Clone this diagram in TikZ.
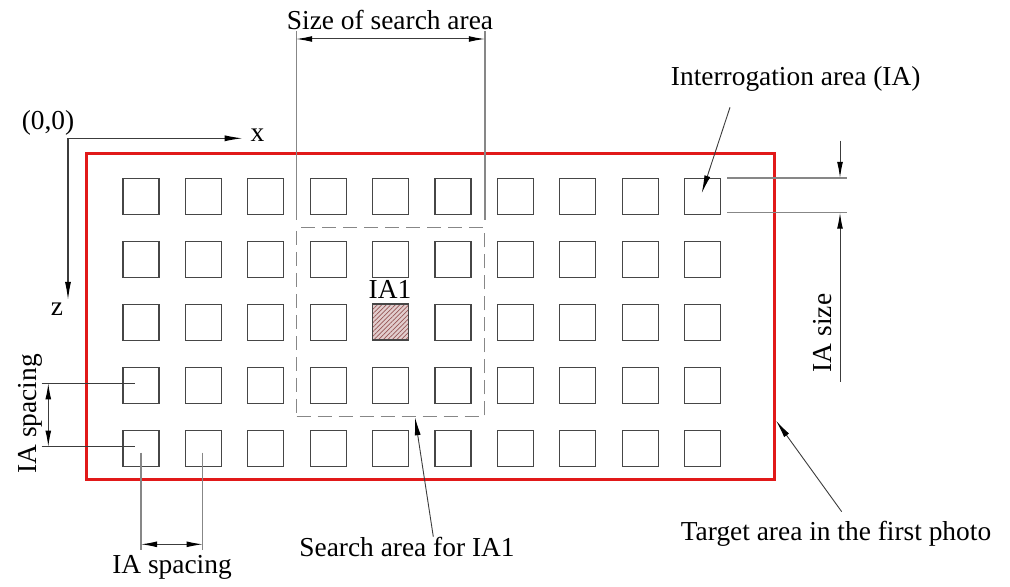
\documentclass[tikz,border=0pt]{standalone}
\usepackage{fontspec}
\setmainfont{Liberation Serif}
\usetikzlibrary{arrows.meta,patterns.meta,fit}

\definecolor{framered}{RGB}{225,25,25}
\definecolor{boxline}{RGB}{70,70,70}
\definecolor{extline}{RGB}{135,135,135}
\definecolor{dimcol}{RGB}{60,60,60}
\definecolor{hatchfill}{RGB}{226,206,206}
\definecolor{hatchline}{RGB}{150,85,85}

\tikzset{
  lbl/.style={inner sep=0pt, font=\fontsize{13.7}{16}\selectfont, text=black},
  iabox/.style={draw=boxline, line width=0.6pt, minimum size=18pt, inner sep=0pt, anchor=north west},
  plainbox/.style={},
  hatchbox/.style={preaction={fill=hatchfill},
    pattern={Lines[angle=45,distance=1.6pt,line width=0.35pt]}, pattern color=hatchline},
  cadtip/.tip={Latex[length=8pt,width=2.9pt,color=black]},
  longtip/.tip={Latex[length=9pt,width=3pt,color=black]},
  dimarrows/.style={cadtip-cadtip, draw=dimcol, line width=0.5pt},
  dimone/.style={-cadtip, draw=dimcol, line width=0.5pt},
  ext/.style={draw=extline, line width=0.6pt},
  leader/.style={draw=dimcol, line width=0.45pt, -longtip},
  axisline/.style={draw=dimcol, line width=0.6pt, -longtip},
}

\begin{document}
\begin{tikzpicture}[x=0.5pt, y=-0.5pt]
  \useasboundingbox (0,0) rectangle (1010,587);

  % grid of interrogation areas (10 columns x 5 rows)
  \foreach \i in {0,...,9}{
    \foreach \j in {0,...,4}{
      \ifnum\i=4 \ifnum\j=2 \def\boxstyle{hatchbox}\else\def\boxstyle{plainbox}\fi
      \else\def\boxstyle{plainbox}\fi
      \node[iabox,\boxstyle] (s\i\j) at ({122.3+62.4*\i},{177.7+63*\j}) {};
    }
  }

  % target area in the first photo
  \node[draw=framered, line width=1.5pt, minimum width=344pt, minimum height=162.7pt,
        inner sep=0pt, anchor=north west] (target) at (85,152.3) {};

  % search area around IA1
  \node[draw=extline, line width=0.6pt, dash pattern=on 7pt off 3.5pt,
        inner sep=6.4pt, fit=(s31)(s53)] (search) {};

  \node[lbl, anchor=base] (ia1) at (390,298.3) {IA1};

  % coordinate axes
  \coordinate (o) at (68,138.3);
  \coordinate (xend) at (242.7,138.3);
  \coordinate (zend) at (68,300);
  \draw[axisline] (o) -- (xend);
  \draw[axisline] (o) -- (zend);
  \node[lbl, anchor=base] (origin) at (48,129.5) {(0,0)};
  \node[lbl, anchor=base] (xlab) at (257.5,141.7) {x};
  \node[lbl, anchor=base] (zlab) at (57,315) {z};

  % size of search area
  \coordinate (sl1) at (search.north west |- 0,31);
  \coordinate (sl2) at (search.north west |- 0,220);
  \coordinate (sr1) at (search.north east |- 0,31);
  \coordinate (sr2) at (search.north east |- 0,220);
  \coordinate (sdl) at (search.north west |- 0,39);
  \coordinate (sdr) at (search.north east |- 0,39);
  \draw[ext] (sl1) -- (sl2);
  \draw[ext] (sr1) -- (sr2);
  \draw[dimarrows] (sdl) -- (sdr);
  \node[lbl, anchor=base] (sizelab) at (390,30) {Size of search area};

  % IA size
  \coordinate (it1) at (727.3,178);
  \coordinate (it2) at (846.7,178);
  \coordinate (ib1) at (727.3,212.7);
  \coordinate (ib2) at (846.7,212.7);
  \coordinate (iatop) at (840,140.7);
  \coordinate (iaup) at (840,178);
  \coordinate (iadn) at (840,212.7);
  \coordinate (iabot) at (840,381.7);
  \draw[ext] (it1) -- (it2);
  \draw[ext] (ib1) -- (ib2);
  \draw[dimone] (iatop) -- (iaup);
  \draw[dimone] (iabot) -- (iadn);
  \node[lbl, anchor=base, rotate=90] (iasize) at (831.7,333) {IA size};

  % IA spacing, vertical
  \coordinate (va1) at (41.7,383.3);
  \coordinate (va2) at (135,383.3);
  \coordinate (vb1) at (41.7,446.7);
  \coordinate (vb2) at (135,446.7);
  \coordinate (vd1) at (48.3,383.3);
  \coordinate (vd2) at (48.3,446.7);
  \draw[draw=dimcol, line width=0.5pt] (va1) -- (va2);
  \draw[draw=dimcol, line width=0.5pt] (vb1) -- (vb2);
  \draw[dimarrows] (vd1) -- (vd2);
  \node[lbl, anchor=base, rotate=90] (vspace) at (36,414) {IA spacing};

  % IA spacing, horizontal
  \coordinate (ha1) at (141,452.7);
  \coordinate (ha2) at (141,550);
  \coordinate (hb1) at (202.7,452.7);
  \coordinate (hb2) at (202.7,550);
  \coordinate (hd1) at (141,544.3);
  \coordinate (hd2) at (202.7,544.3);
  \draw[ext] (ha1) -- (ha2);
  \draw[ext] (hb1) -- (hb2);
  \draw[dimarrows] (hd1) -- (hd2);
  \node[lbl, anchor=base] (hspace) at (172,573) {IA spacing};

  % leaders
  \node[lbl, anchor=base] (ialab) at (795.7,86) {Interrogation area (IA)};
  \coordinate (ialead) at (730,107.3);
  \coordinate (iatip) at (701.7,193.3);
  \draw[leader] (ialead) -- (iatip);

  \node[lbl, anchor=base] (searchlab) at (407,556.7) {Search area for IA1};
  \coordinate (salead) at (433.3,536.7);
  \coordinate (satip) at (search.south -| 415,0);
  \draw[leader] (salead) -- (satip);

  \node[lbl, anchor=base] (targetlab) at (836,540.7) {Target area in the first photo};
  \coordinate (talead) at (841.7,511.7);
  \coordinate (tatip) at (target.east |- 0,420.7);
  \draw[leader] (talead) -- (tatip);
\end{tikzpicture}
\end{document}
